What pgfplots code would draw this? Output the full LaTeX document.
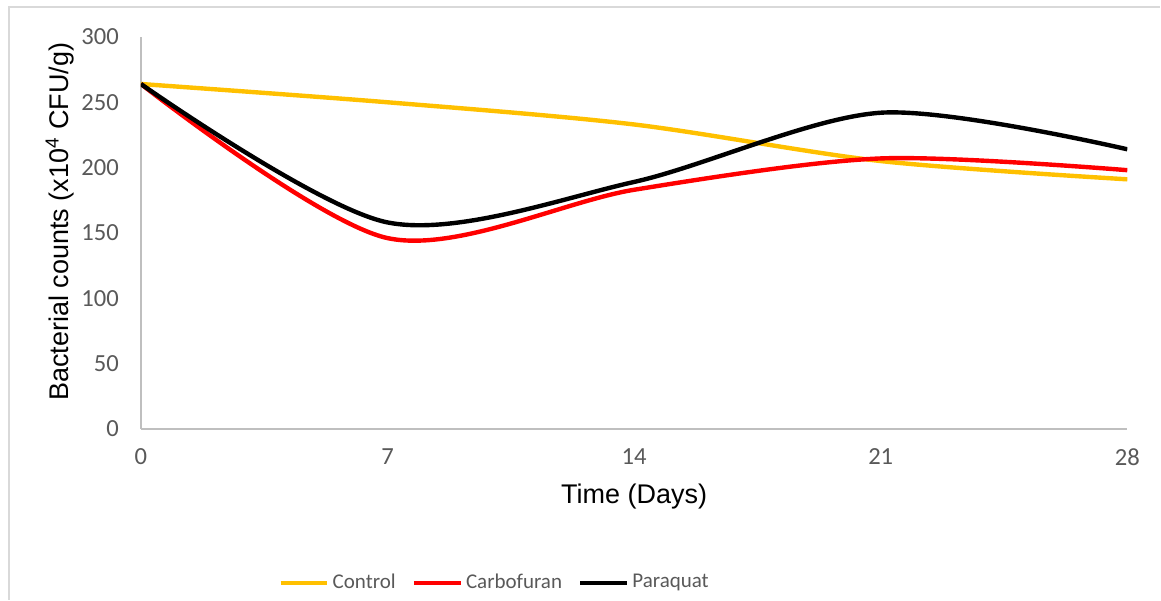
\documentclass[border=0pt]{standalone}
\usepackage{pgfplots}
\pgfplotsset{compat=1.18}
\usepackage{fontspec}
\setmainfont{Carlito}
\newfontfamily\arialfont{Liberation Sans}
\definecolor{ctrl}{HTML}{FFC000}
\definecolor{carbo}{HTML}{FF0000}
\definecolor{tickgray}{HTML}{595959}
\definecolor{framegray}{HTML}{D9D9D9}

\begin{document}
\begin{tikzpicture}
  % page frame (1px = 0.5pt)
  \path (0,0) rectangle (580.5pt,300pt);
  \draw[framegray, line width=0.7pt] (4.5pt,0) -- (4.5pt,296.5pt) -- (580.5pt,296.5pt);
  \begin{axis}[
      at={(70.5pt,85.5pt)}, anchor=south west,
      scale only axis, width=493.5pt, height=196pt,
      xmin=0, xmax=28, ymin=0, ymax=300,
      xtick={0,7,14,21,28}, ytick={0,50,...,300},
      axis x line*=bottom, axis y line*=left,
      axis line style={-, black!25, line width=0.8pt},
      major tick length=0pt,
      /pgf/number format/assume math mode=true,
      tick label style={font=\fontsize{12.3}{14}\selectfont, text=tickgray},
      xticklabel style={yshift=-6.5pt},
      yticklabel style={xshift=-7.5pt},
      xlabel={Time (Days)},
      ylabel={Bacterial counts (x10\textsuperscript{4} CFU/g)},
      label style={font=\arialfont\fontsize{13.5}{15}\selectfont},
      xlabel style={at={(axis description cs:0.5,-0.173)}, anchor=center},
      ylabel style={at={(axis description cs:-0.082,0.528)}, anchor=center},
      legend columns=3,
      legend style={at={(axis description cs:0.359,-0.393)}, anchor=center,
        draw=none, fill=none, font=\fontsize{10.5}{12}\selectfont, text=tickgray,
        nodes={inner sep=1.5pt},
        /tikz/every even column/.append style={column sep=6.5pt}},
      legend image code/.code={\draw[#1] (0pt,0pt) -- (23.5pt,0pt);},
      every axis plot/.append style={line width=2.2pt, smooth},
    ]
    \addplot[ctrl] coordinates {(0,264) (7,250) (14,233) (21,205) (28,191)};
    \addlegendentry{Control}
    \addplot[carbo] coordinates {(0,264) (7,146) (14,183) (21,207) (28,198)};
    \addlegendentry{Carbofuran}
    \addplot[black] coordinates {(0,264) (7,158) (14,189) (21,242) (28,214)};
    \addlegendentry{Paraquat}
  \end{axis}
\end{tikzpicture}
\end{document}
